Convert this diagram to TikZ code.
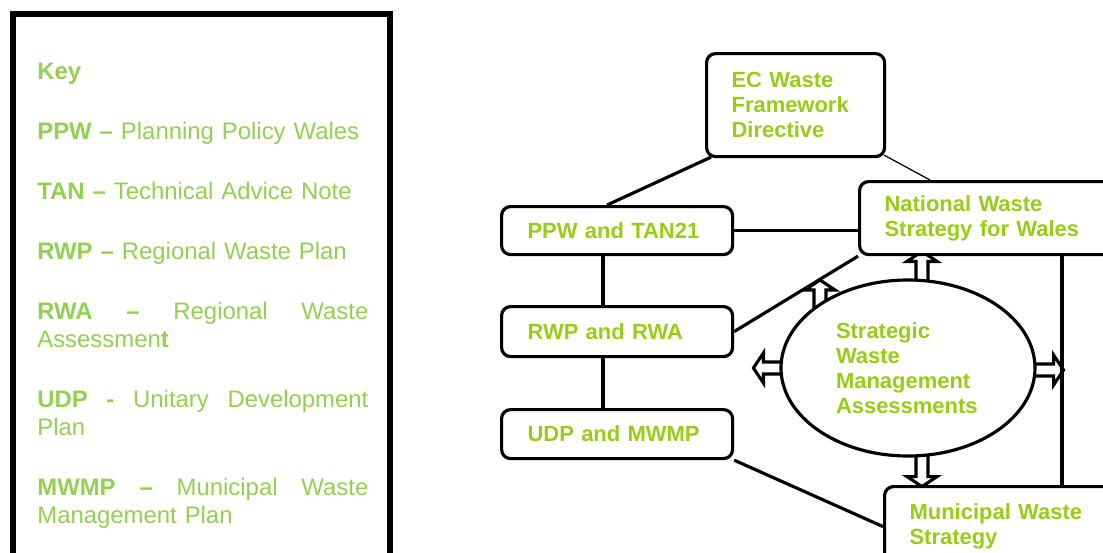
\documentclass[tikz,border=0pt]{standalone}
\usepackage{fontspec}
\setmainfont{Liberation Sans}
\usetikzlibrary{shapes.geometric, calc, backgrounds}
\newlength{\pxl}\setlength{\pxl}{0.02cm}
\definecolor{keygreen}{RGB}{146,208,80}
\definecolor{boxgreen}{RGB}{153,204,20}
\tikzset{
  box/.style      = {draw, line width=1.8pt, rounded corners=9\pxl, fill=white,
                     anchor=north west, inner xsep=25\pxl, inner ysep=0pt,
                     align=left, text=boxgreen,
                     font=\bfseries\fontsize{12.5pt}{14.2pt}\selectfont},
  swmbox/.style   = {draw, ellipse, line width=1.8pt, fill=white, inner sep=0pt,
                     align=left, text=boxgreen,
                     font=\bfseries\fontsize{12.5pt}{14.2pt}\selectfont},
  keytext/.style  = {anchor=north west, inner sep=0pt, align=left, text=keygreen,
                     font=\fontsize{13.6pt}{15.9pt}\selectfont},
  keyframe/.style = {line width=3.2pt},
  link/.style     = {line width=1.8pt},
  thinlink/.style = {line width=0.7pt},
  hollow arrow/.pic = {
    \draw[link, line join=miter] (-8,-6) -- (#1-10,-6) -- (#1-10,-15) -- (#1,0)
      -- (#1-10,15) -- (#1-10,6) -- (-8,6);
  },
}

\begin{document}
\begin{tikzpicture}[x=0.02cm, y=-0.02cm]
  \useasboundingbox (0,0) rectangle (1103,552);
  \clip (0,0) rectangle (1103,552);

  % key
  \draw[keyframe] (13,14) rectangle (390,640);
  \node[keytext, text width=331\pxl] (key) at (37,63) {%
    \textbf{Key}\\[32\pxl]
    \textbf{PPW –} Planning Policy Wales\\[32\pxl]
    \textbf{TAN –} Technical Advice Note\\[32\pxl]
    \textbf{RWP –} Regional Waste Plan\\[32\pxl]
    \textbf{RWA}\hfill\textbf{–}\hfill Regional\hfill Waste\\
    Assessmen\textbf{t}\\[32\pxl]
    \textbf{UDP}\hfill\textbf{-}\hfill Unitary\hfill Development\\
    Plan\\[32\pxl]
    \textbf{MWMP}\hfill\textbf{–}\hfill Municipal\hfill Waste\\
    Management Plan};

  % boxes
  \node[box, minimum width=178\pxl, minimum height=103\pxl, text width=128\pxl]
    (ec)  at (705,52)  {EC Waste\\Framework\\Directive};
  \node[box, minimum width=231\pxl, minimum height=48\pxl, text width=179\pxl, inner xsep=26\pxl]
    (ppw) at (500,205) {PPW and TAN21};
  \node[box, minimum width=231\pxl, minimum height=50\pxl, text width=179\pxl, inner xsep=26\pxl]
    (rwp) at (500,305) {RWP and RWA};
  \node[box, minimum width=231\pxl, minimum height=49\pxl, text width=179\pxl, inner xsep=26\pxl]
    (udp) at (500,408) {UDP and MWMP};
  \node[box, minimum width=290\pxl, minimum height=73\pxl, text width=240\pxl]
    (nws) at (858,180) {National Waste\\Strategy for Wales};
  \node[box, minimum width=262\pxl, minimum height=80\pxl, text width=212\pxl]
    (mws) at (883,485) {Municipal Waste\\Strategy};
  \node[swmbox, minimum width=254\pxl, minimum height=176\pxl, text width=144\pxl]
    (swm) at (908,368) {Strategic\\Waste\\Management\\Assessments};

  \coordinate (spine) at (603,0);
  \coordinate (rail)  at (1062,0);

  % connectors
  \draw[link] ($(ec.south west)+(6,-1)$) -- ($(ppw.north)+(-10,0)$);
  \draw[thinlink] ($(ec.south east)+(-2,-3)$) -- ($(nws.north west)+(72,0)$);
  \draw[link] (ppw.east) -- (ppw.east -| nws.west);
  \draw[link] (spine |- ppw.south) -- (spine |- rwp.north);
  \draw[link] (spine |- rwp.south) -- (spine |- udp.north);
  \draw[link] (rwp.east) -- (nws.south west);
  \draw[link] (udp.south east) -- (mws.west);
  \draw[link] (rail |- nws.south) -- (rail |- mws.north);

  % hollow arrows out of the ellipse
  \begin{scope}[on background layer]
    \pic[rotate=90]  at ($(swm.north)+(14,0)$)     {hollow arrow=27};
    \pic[rotate=-90] at ($(swm.south)+(14,0)$)     {hollow arrow=29};
    \pic             at ($(swm.east)+(0,2)$)       {hollow arrow=27};
    \pic[rotate=180] at (swm.west)                 {hollow arrow=26};
    \pic[rotate=90]  at ($(swm.center)+(-88,-56)$) {hollow arrow=32};
  \end{scope}
\end{tikzpicture}
\end{document}
